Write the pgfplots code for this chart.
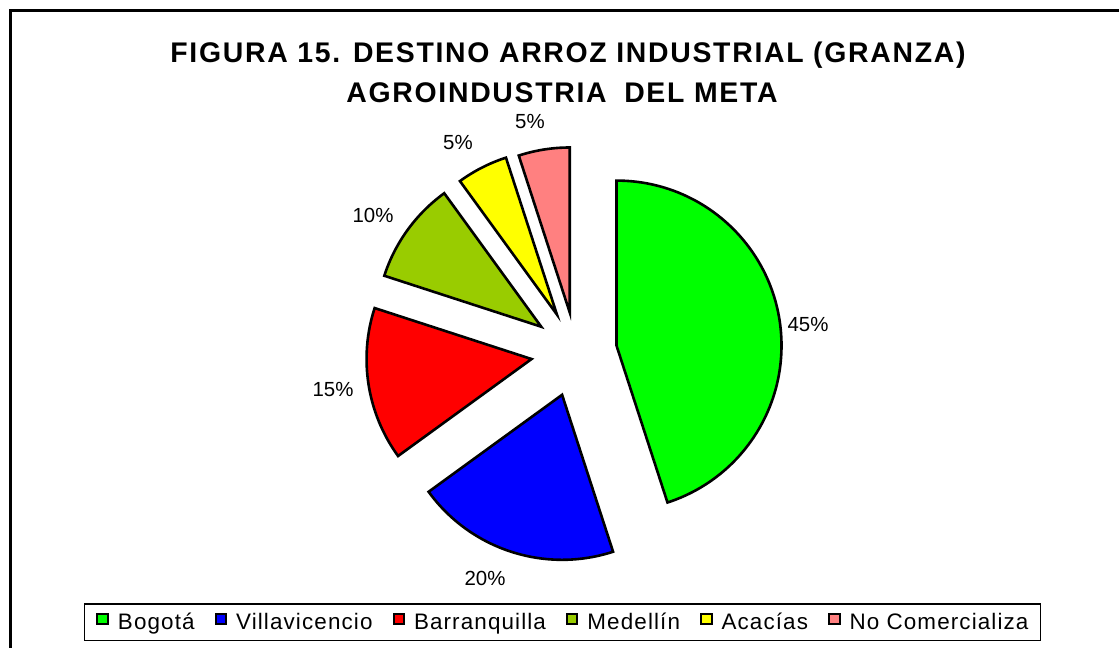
\documentclass[border=0pt]{standalone}
\usepackage{pgfplots}
\pgfplotsset{compat=1.18}
\usepackage{fontspec}
\setmainfont{Liberation Sans}
\newfontfamily\titlefont[LetterSpace=6]{Liberation Sans}
\newfontfamily\legfont[LetterSpace=5]{Liberation Sans}
\definecolor{cgreen}{RGB}{0,255,0}
\definecolor{cblue}{RGB}{0,0,255}
\definecolor{cred}{RGB}{255,0,0}
\definecolor{colive}{RGB}{153,204,0}
\definecolor{cyellow}{RGB}{255,255,0}
\definecolor{cpink}{RGB}{255,128,128}
\begin{document}
\begin{tikzpicture}
\begin{axis}[
  width=1119bp, height=648bp, scale only axis,
  xmin=0, xmax=1119, ymin=0, ymax=648, y dir=reverse,
  axis lines=none, clip=true,
  legend columns=-1,
  legend style={at={(axis cs:562.5,622)}, anchor=center, draw=black, line width=1.5bp,
    font=\legfont\fontsize{22.5}{26}\selectfont,
    nodes={inner sep=0pt},
    /tikz/every odd column/.append style={column sep=9bp},
    /tikz/every even column/.append style={column sep=20bp},
    inner xsep=12bp, inner ysep=9bp},
  legend image code/.code={\draw[#1, line width=2bp] (0.5bp,-2bp) rectangle (11bp,8.5bp);},
]
\draw[line width=3bp] (axis cs:10,11) rectangle (axis cs:1200,720);
\gdef\cumul{0}
\foreach \v/\c/\d/\lx/\ly in {45/cgreen/41/808/325, 20/cblue/45/485/578, 15/cred/45/333/390, 10/colive/43/373/215, 5/cyellow/42/458/143, 5/cpink/40/530/122} {
  \pgfmathsetmacro\sa{90-3.6*\cumul}
  \pgfmathsetmacro\ea{90-3.6*(\cumul+\v)}
  \pgfmathsetmacro\ma{(\sa+\ea)/2}
  \pgfmathsetmacro\newc{\cumul+\v}
  \xdef\cumul{\newc}
  \edef\temp{\noexpand\filldraw[fill=\c, draw=black, line width=2.6bp, line join=miter]
     (axis cs:576,352) ++(\ma:\d bp) -- ++(\sa:165bp) arc[start angle=\sa, end angle=\ea, radius=165bp] -- cycle;
   \noexpand\node[font=\noexpand\fontsize{20.5}{24}\noexpand\selectfont] at (axis cs:\lx,\ly) {\v\noexpand\%};}
  \temp
}
\node[font=\titlefont\fontsize{28.5}{32}\bfseries\selectfont] at (axis cs:568,55) {FIGURA 15. DESTINO ARROZ INDUSTRIAL (GRANZA)};
\node[font=\titlefont\fontsize{28.5}{32}\bfseries\selectfont] at (axis cs:562,93) {AGROINDUSTRIA\ \hspace{8bp}DEL META};
\addlegendimage{fill=cgreen,draw=black}\addlegendentry{Bogotá}
\addlegendimage{fill=cblue,draw=black}\addlegendentry{Villavicencio}
\addlegendimage{fill=cred,draw=black}\addlegendentry{Barranquilla}
\addlegendimage{fill=colive,draw=black}\addlegendentry{Medellín}
\addlegendimage{fill=cyellow,draw=black}\addlegendentry{Acacías}
\addlegendimage{fill=cpink,draw=black}\addlegendentry{No Comercializa}
\end{axis}
\pgfresetboundingbox
\path (current axis.south west) rectangle (current axis.north east);
\end{tikzpicture}
\end{document}
